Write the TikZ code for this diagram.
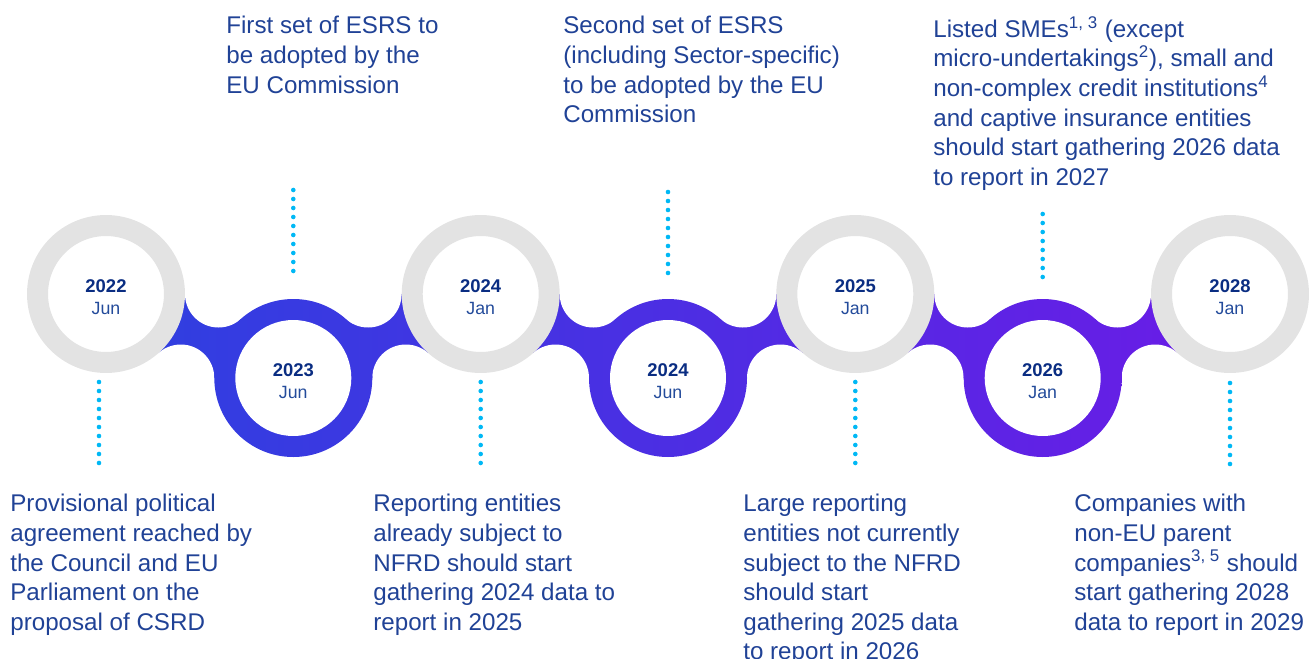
\documentclass[tikz,border=0pt]{standalone}
\usepackage{fontspec}
\setmainfont{Liberation Sans}
\usepackage{tikz}

\definecolor{txtblue}{RGB}{32,66,150}
\definecolor{yrblue}{RGB}{10,45,130}
\definecolor{mthblue}{RGB}{35,75,155}
\definecolor{ringgray}{RGB}{227,227,227}
\definecolor{dotcyan}{RGB}{0,184,245}
\definecolor{bandL}{RGB}{46,64,224}
\definecolor{bandM}{RGB}{54,60,226}
\definecolor{bandR}{RGB}{106,28,230}

\begin{document}
\begin{tikzpicture}[x=0.02cm,y=-0.02cm,
  note/.style={anchor=north west,inner sep=0pt,align=left,text=txtblue,font=\fontsize{13.75}{16.85}\selectfont},
  yearlbl/.style={inner sep=0pt,text=yrblue,font=\fontsize{10.5}{12}\selectfont\bfseries},
  monthlbl/.style={inner sep=0pt,text=mthblue,font=\fontsize{10.1}{12}\selectfont},
  ringtop/.style={circle,draw=ringgray,line width=0.42cm,fill=white,minimum size=2.74cm,inner sep=0pt},
  ringbot/.style={circle,fill=white,minimum size=2.32cm,inner sep=0pt},
  dotline/.style={dotcyan,line width=0.092cm,line cap=round,dash pattern=on 0pt off 0.18cm},
  bandfill/.style={left color=bandL,middle color=bandM,right color=bandR}]

\useasboundingbox (0,0) rectangle (1312,659);

% band between the circles
\begin{scope}
  \clip \foreach \xl/\yl/\yr in {106/294/378,293.3/378/294,480.7/294/378,668/378/294,855.3/294/378,1042.7/378/294}
    {(\xl,\yl) -- (\xl+112.5,\yl) -- (\xl+187.3,\yr) -- (\xl+74.8,\yr) -- cycle};
  \shade[bandfill] (106,200) rectangle (1230,460);
\end{scope}
\foreach \xl/\yl/\yr in {106/294/378,293.3/378/294,480.7/294/378,668/378/294,855.3/294/378,1042.7/378/294} {
  \fill[white] (\xl+112.5,\yl) circle[radius=33.5];
  \fill[white] (\xl+74.8,\yr) circle[radius=33.5];
}
\begin{scope}
  \clip (293.3,378) circle[radius=79] (668,378) circle[radius=79] (1042.7,378) circle[radius=79];
  \shade[bandfill] (106,200) rectangle (1230,460);
\end{scope}

% circles
\foreach \nm/\x/\yr/\mo in {22/106/2022/Jun,24a/480.7/2024/Jan,25/855.3/2025/Jan,28/1230/2028/Jan} {
  \node[ringtop] (c\nm) at (\x,294) {};
  \node[yearlbl] (y\nm) at (\x,286) {\yr};
  \node[monthlbl] (m\nm) at (\x,308) {\mo};
}
\foreach \nm/\x/\yr/\mo in {23/293.3/2023/Jun,24b/668/2024/Jun,26/1042.7/2026/Jan} {
  \node[ringbot] (c\nm) at (\x,378) {};
  \node[yearlbl] (y\nm) at (\x,370) {\yr};
  \node[monthlbl] (m\nm) at (\x,392) {\mo};
}

% dotted leaders
\foreach \nm/\x/\ya/\yb in {a/99/382/468,b/293.3/190/279,c/480.7/382/468,d/668/192/279,e/855.3/382/468,f/1042.7/214/279,g/1230/383/470} {
  \coordinate (s\nm) at (\x,\ya);
  \coordinate (t\nm) at (\x,\yb);
  \draw[dotline] (s\nm) -- (t\nm);
}

% texts
\node[note] (n23) at (226,16) {First set of ESRS to\\be adopted by the\\EU Commission};
\node[note] (n24b) at (563,16) {Second set of ESRS\\(including Sector-specific)\\to be adopted by the EU\\Commission};
\node[note] (n26) at (933,16) {Listed SMEs\textsuperscript{1, 3} (except\\micro-undertakings\textsuperscript{2}), small and\\non-complex credit institutions\textsuperscript{4}\\and captive insurance entities\\should start gathering 2026 data\\to report in 2027};

\node[note] (n22) at (10,494) {Provisional political\\agreement reached by\\the Council and EU\\Parliament on the\\proposal of CSRD};
\node[note] (n24a) at (373,494) {Reporting entities\\already subject to\\NFRD should start\\gathering 2024 data to\\report in 2025};
\node[note] (n25) at (743,494) {Large reporting\\entities not currently\\subject to the NFRD\\should start\\gathering 2025 data\\to report in 2026};
\node[note] (n28) at (1074,494) {Companies with\\non-EU parent\\companies\textsuperscript{3, 5} should\\start gathering 2028\\data to report in 2029};

\end{tikzpicture}
\end{document}
